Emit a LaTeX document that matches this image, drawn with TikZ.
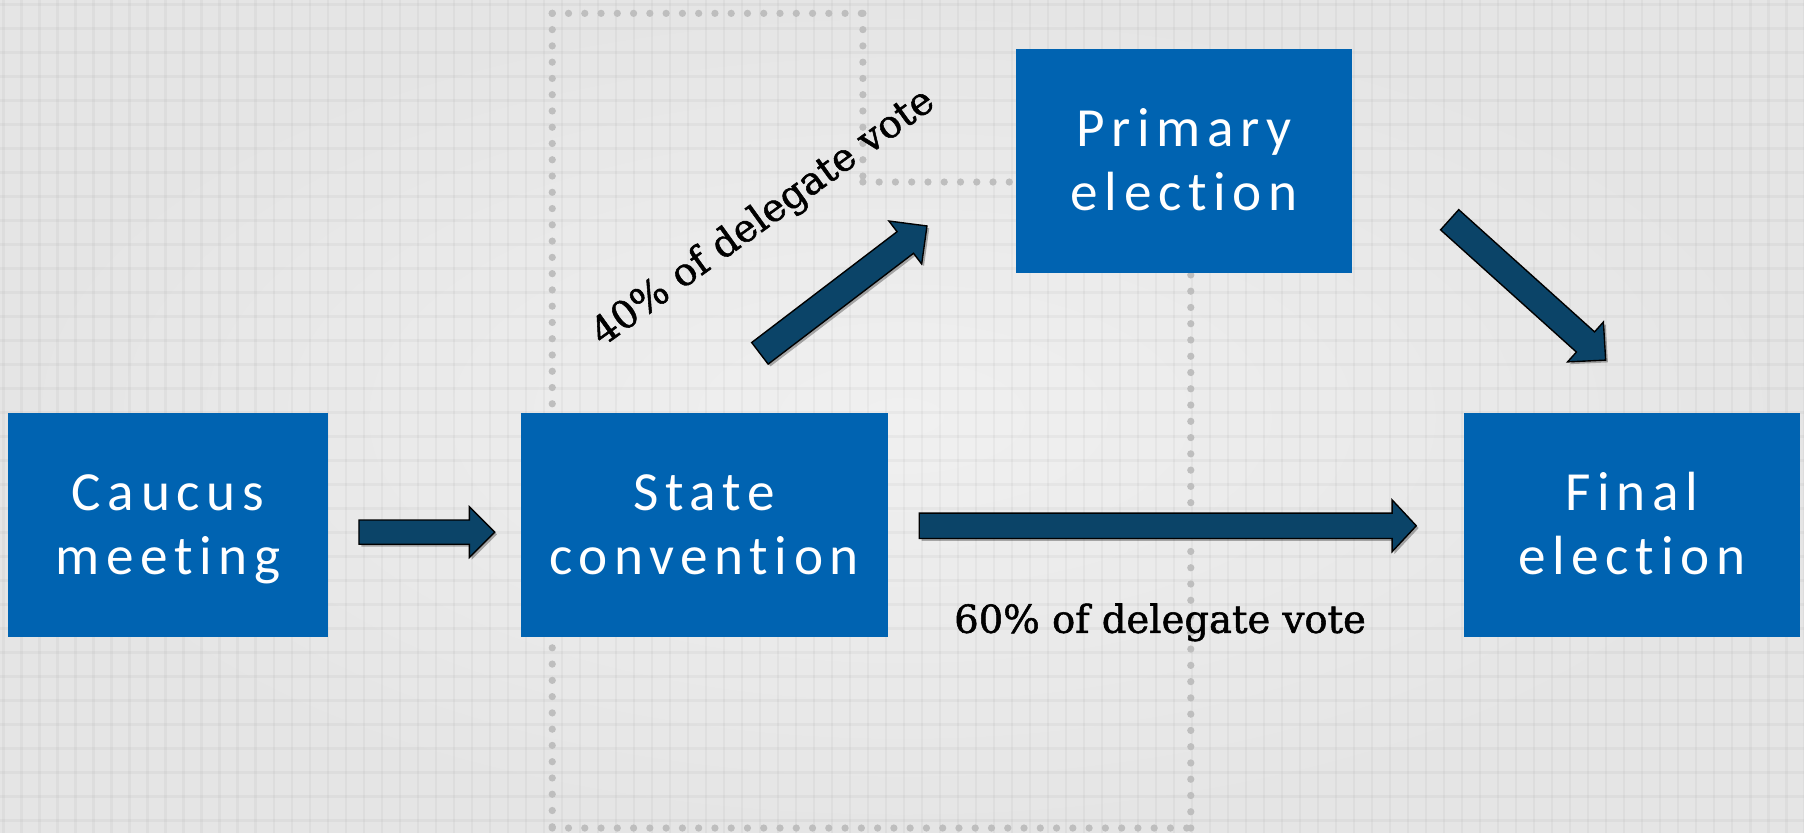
\documentclass[tikz,border=0pt]{standalone}
\usepackage{fontspec}
\usetikzlibrary{calc,shadows}
\newfontfamily\boxfont[LetterSpace=12,Ligatures=NoCommon]{Carlito}
\newfontfamily\labfont[FakeBold=1.4]{DejaVu Serif}
\definecolor{boxblue}{HTML}{0063B1}
\definecolor{arrowblue}{HTML}{0B4468}
\definecolor{dotgray}{HTML}{BEBEBE}
\definecolor{bglight}{HTML}{F0F0F0}
\definecolor{bgdark}{HTML}{E5E5E5}
% #1 name, #2 tail, #3 tip, #4 half shaft, #5 half head, #6 head length
\newcommand\blockarrow[6]{%
  \coordinate (#1hb) at ($(#3)!#6!(#2)$);
  \path[blockarr] ($(#2)!#4!90:(#3)$) -- ($(#1hb)!#4!-90:(#2)$) -- ($(#1hb)!#5!-90:(#2)$)
    -- (#3) -- ($(#1hb)!#5!90:(#2)$) -- ($(#1hb)!#4!90:(#2)$) -- ($(#2)!#4!-90:(#3)$) -- cycle;
}
\begin{document}
\begin{tikzpicture}[x=1pt,y=-1pt,
  stagebox/.style={fill=boxblue, text=white, inner sep=0pt, align=center,
    font=\boxfont\fontsize{48}{55.5}\selectfont, text height=85.5pt, text depth=0pt},
  blockarr/.style={fill=arrowblue, draw=black, line width=1.2pt, line join=miter,
    drop shadow={shadow xshift=2pt, shadow yshift=-2pt, opacity=0.3, fill=black}},
  dotline/.style={draw=dotgray, line width=6.3pt, line cap=round, dash pattern=on 0pt off 14.14pt},
  gridline/.style={draw=black, opacity=0.03, line width=2.2pt},
  votelabel/.style={font=\labfont\fontsize{33.5}{38}\selectfont, text=black, inner sep=0pt}]
\useasboundingbox (0,0) rectangle (1568,724);
% background
\shade[inner color=bglight, outer color=bgdark] (0,0) rectangle (1568,724);
\foreach \i in {0,...,100} {\draw[gridline] ({3.2+\i*15.65},0) -- ({3.2+\i*15.65},724);}
\foreach \j in {0,...,34} {\draw[gridline] (0,{3.74+\j*20.86}) -- (1568,{3.74+\j*20.86});}
% dotted outline
\draw[dotline] (480,11.6) -- (750,11.6);
\draw[dotline] (750,11.6) -- (750,158.2);
\draw[dotline] (750,158.2) -- (883,158.2);
\draw[dotline] (480,11.6) -- (480,719.7);
\draw[dotline] (480,719.7) -- (1035,719.7);
\draw[dotline] (1035,719.7) -- (1035,237.6);
% boxes
\node[stagebox, minimum width=278.4pt, minimum height=194.4pt] (caucus) at (146,456.2) {Caucus\\meeting};
\node[stagebox, minimum width=319.1pt, minimum height=194.4pt] (state) at (612,456.2) {State\\convention};
\node[stagebox, minimum width=292pt, minimum height=195pt] (primary) at (1029.1,140.1) {Primary\\election};
\node[stagebox, minimum width=292.5pt, minimum height=194.4pt] (final) at (1418.3,456.2) {Final\\election};
% arrows
\coordinate (a1t) at (312,462.5);
\coordinate (a1p) at (430,462.5);
\coordinate (a2t) at (799,457);
\coordinate (a2p) at (1231,457);
\coordinate (a3t) at (660.5,307.1);
\coordinate (a3p) at (805.7,196.4);
\coordinate (a4t) at (1260,191);
\coordinate (a4p) at (1395.6,313);
\blockarrow{aa}{a1t}{a1p}{10.5pt}{22pt}{22pt}
\blockarrow{ab}{a2t}{a2p}{11pt}{22.5pt}{21pt}
\blockarrow{ac}{a3t}{a3p}{11.8pt}{23.5pt}{23.7pt}
\blockarrow{ad}{a4t}{a4p}{11.8pt}{23.3pt}{23.6pt}
% labels
\node[votelabel, anchor=base, rotate=35.8] (lab40) at (669,197) {40\% of delegate vote};
\node[votelabel, anchor=base] (lab60) at (1008.3,550) {60\% of delegate vote};
\end{tikzpicture}
\end{document}
